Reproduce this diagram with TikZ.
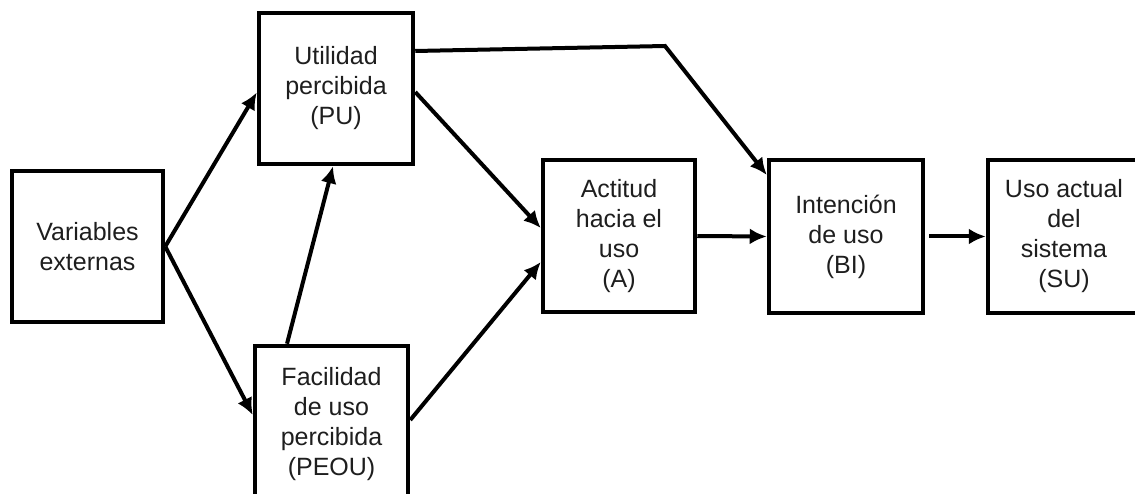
\documentclass[tikz,border=0pt]{standalone}
\usepackage{fontspec}
\setmainfont{Liberation Sans}
\usetikzlibrary{arrows.meta,calc}
\definecolor{txt}{RGB}{30,30,30}
\begin{document}
\begin{tikzpicture}[x=1pt,y=-1pt,
  box/.style={draw=black, line width=4.5pt, rectangle, align=center,
    text=txt, inner sep=0pt, font=\fontsize{25}{30}\selectfont},
  link/.style={line width=4pt, -{Latex[length=17pt,width=16pt]}}]
  \useasboundingbox (0,0) rectangle (1135,494);

  % construct boxes
  \node[box, minimum width=151pt, minimum height=151pt] (VE) at (87.5,246.5) {Variables\\externas};
  \node[box, minimum width=154pt, minimum height=151pt] (PU) at (336,88.5) {Utilidad\\percibida\\(PU)};
  \node[box, minimum width=153pt, minimum height=156pt] (PEOU) at (331.5,424) {Facilidad\\de uso\\percibida\\(PEOU)};
  \node[box, minimum width=152pt, minimum height=152pt] (A) at (619,236) {Actitud\\hacia el\\uso\\(A)};
  \node[box, minimum width=154pt, minimum height=153pt] (BI) at (846,236.5) {Intención\\de uso\\(BI)};
  \node[box, minimum width=152pt, minimum height=153pt] (SU) at (1064,236.5) {Uso actual\\del\\sistema\\(SU)};

  \coordinate (bend) at (665,46);

  % relations between constructs
  \draw[link] (VE.east) -- ([yshift=-4pt]PU.west);
  \draw[link] (VE.east) -- ([yshift=9pt]PEOU.west);
  \draw[link] ([xshift=-44.5pt]PEOU.north) -- ([xshift=-3pt]PU.south);
  \draw[link] ([yshift=-3.5pt]PU.east) -- ([yshift=8pt]A.west);
  \draw[link] ([yshift=4pt]PEOU.east) -- ([yshift=-26pt]A.west);
  \draw[link, line join=miter] ([yshift=37.5pt]PU.east) -- (bend) -- ([yshift=61.5pt]BI.west);
  \draw[link] (A.east) -- (BI.west);
  \draw[link, shorten <=4pt] (BI.east) -- (SU.west);
\end{tikzpicture}
\end{document}
